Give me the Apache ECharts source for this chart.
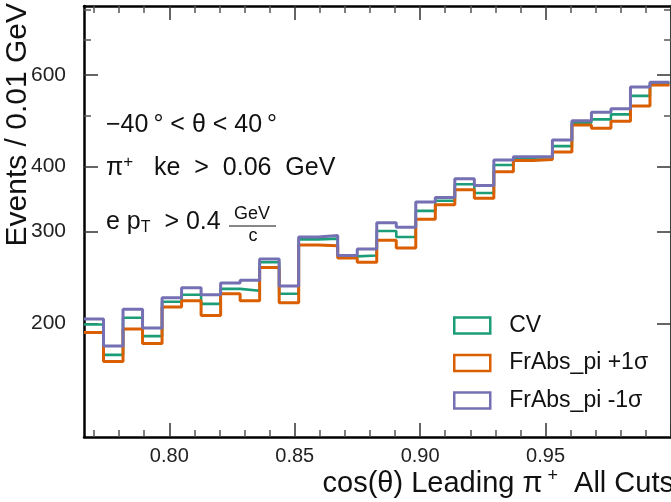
<!DOCTYPE html>
<html>
<head>
<meta charset="utf-8">
<script src="https://cdn.jsdelivr.net/npm/echarts@6/dist/echarts.min.js"></script>
<style>
html, body { margin: 0; padding: 0; background: #fff; }
#main { width: 671px; height: 502px; }
</style>
</head>
<body>
<div id="main"></div>
<script>
// histogram binning (cos theta), 30 bins
var binStart = 0.766, binWidth = 0.00778;

// bin contents
var cv     = [199, 174, 205, 189, 220, 227, 218, 233, 231, 262, 228, 290, 291, 269, 270, 301, 293, 329, 344, 370, 356, 403, 416, 417, 438, 486, 493, 504, 547, 578];
var frUp   = [192, 169, 195, 183, 215, 221, 207, 228, 221, 256, 219, 283, 282, 267, 262, 289, 279, 317, 338, 361, 348, 391, 411, 413, 427, 481, 474, 489, 523, 574];
var frDown = [204, 181, 213, 196, 224, 234, 227, 239, 242, 266, 236, 293, 295, 270, 278, 312, 306, 342, 349, 379, 368, 412, 418, 418, 450, 490, 509, 517, 569, 581];

// ticks
var xMajor = [0.80, 0.85, 0.90, 0.95, 1.00];
var xLabels = [0.80, 0.85, 0.90, 0.95];
var xMinor = [0.77, 0.78, 0.79, 0.81, 0.82, 0.83, 0.84, 0.86, 0.87, 0.88, 0.89, 0.91, 0.92, 0.93, 0.94, 0.96, 0.97, 0.98, 0.99];
var yMajor = [200, 300, 400, 600];
var yMinor = [500, 700, 800];

var FONT = '"Liberation Sans", Arial, sans-serif';
var colors = ['#1b9e77', '#d95f02', '#7570b3'];

function histData(vals) {
  var out = [];
  for (var i = 0; i < vals.length; i++) out.push([binStart + i * binWidth, vals[i]]);
  out.push([binStart + vals.length * binWidth, vals[vals.length - 1]]);
  return out;
}

function xAxisDef(pos, major) {
  return {
    type: 'value', min: 0.766, max: 1.0, position: pos,
    axisLine: { show: major, onZero: false, lineStyle: { color: '#000', width: 2.5 } },
    axisTick: { show: true, inside: true, length: major ? 14 : 7,
      customValues: major ? xMajor : xMinor,
      lineStyle: { color: major ? '#333' : '#555', width: 1.5 } },
    axisLabel: (major && pos === 'bottom') ? {
      show: true, customValues: xLabels, margin: 9,
      fontSize: 20, fontFamily: FONT, color: '#222',
      formatter: function (v) { return v.toFixed(2); }
    } : { show: false },
    splitLine: { show: false }
  };
}

function yAxisDef(pos, major) {
  return {
    type: 'log', logBase: 10, min: 121, max: 814, position: pos,
    axisLine: { show: major, onZero: false, lineStyle: { color: '#000', width: 2.5 } },
    axisTick: { show: true, inside: true, length: major ? 14 : 7,
      customValues: major ? yMajor : yMinor,
      lineStyle: { color: major ? '#333' : '#555', width: 1.5 } },
    axisLabel: (major && pos === 'left') ? {
      show: true, customValues: yMajor, margin: 18,
      fontSize: 21, fontFamily: FONT, color: '#222',
      formatter: function (v) { return String(Math.round(v)); }
    } : { show: false },
    splitLine: { show: false },
    minorTick: { show: false }
  };
}

var names = ['CV', 'FrAbs_pi +1\u03c3', 'FrAbs_pi -1\u03c3'];
var values = [cv, frUp, frDown];

var chart = echarts.init(document.getElementById('main'));
chart.setOption({
  animation: false,
  backgroundColor: '#fff',
  grid: { left: 84, top: 6, width: 590, height: 431 },
  xAxis: [xAxisDef('bottom', true), xAxisDef('bottom', false), xAxisDef('top', true), xAxisDef('top', false)],
  yAxis: [yAxisDef('left', true), yAxisDef('left', false), yAxisDef('right', true), yAxisDef('right', false)],
  legend: {
    orient: 'vertical', left: 453, top: 314, padding: 0,
    itemWidth: 36, itemHeight: 16, itemGap: 14.5, icon: 'rect',
    selectedMode: false,
    textStyle: { fontSize: 23, fontFamily: FONT, color: '#111', padding: [0, 0, 0, 14] },
    data: names.map(function (n, i) {
      return { name: n, itemStyle: { color: 'rgba(0,0,0,0)', borderColor: colors[i], borderWidth: 2.5 } };
    })
  },
  series: values.map(function (v, i) {
    return {
      name: names[i], type: 'line', step: 'end',
      xAxisIndex: 0, yAxisIndex: 0,
      data: histData(v), symbol: 'none',
      lineStyle: { color: colors[i], width: i === 0 ? 2.6 : 3 },
      itemStyle: { color: colors[i] },
      z: 3 + i
    };
  }),
  graphic: [
    { type: 'text', x: 18, y: 3, rotation: Math.PI / 2,
      style: { text: 'Events / 0.01 GeV', font: '30px ' + FONT, fill: '#111', align: 'right', verticalAlign: 'middle' } },
    { type: 'text', x: 674, y: 484,
      style: { text: '{m|cos(\u03b8) Leading \u03c0}{s| +}{m|  All Cuts}', fill: '#111', align: 'right', verticalAlign: 'middle',
        rich: { m: { fontSize: 29, fontFamily: FONT, lineHeight: 34, verticalAlign: 'middle' },
                s: { fontSize: 18, fontFamily: FONT, lineHeight: 24, verticalAlign: 'top' } } } },
    { type: 'text', x: 106, y: 125,
      style: { text: '\u221240\u2009\u00b0 < \u03b8 < 40\u2009\u00b0', font: '25px ' + FONT, fill: '#111', verticalAlign: 'middle' } },
    { type: 'text', x: 106, y: 168,
      style: { text: '{m|\u03c0}{s|+}{m|   ke  >  0.06  GeV}', fill: '#111', verticalAlign: 'middle',
        rich: { m: { fontSize: 25, fontFamily: FONT, lineHeight: 28, verticalAlign: 'middle' },
                s: { fontSize: 17, fontFamily: FONT, lineHeight: 20, verticalAlign: 'top' } } } },
    { type: 'text', x: 106, y: 222,
      style: { text: '{m|e p}{b|T}{m|  > 0.4}', fill: '#111', verticalAlign: 'middle',
        rich: { m: { fontSize: 25, fontFamily: FONT, lineHeight: 28, verticalAlign: 'middle' },
                b: { fontSize: 16, fontFamily: FONT, lineHeight: 19, verticalAlign: 'bottom' } } } },
    { type: 'text', x: 252, y: 214,
      style: { text: 'GeV', font: '18px ' + FONT, fill: '#111', align: 'center', verticalAlign: 'middle' } },
    { type: 'line', shape: { x1: 229, y1: 226, x2: 276, y2: 226 }, style: { stroke: '#111', lineWidth: 1.2 } },
    { type: 'text', x: 253, y: 236,
      style: { text: 'c', font: '18px ' + FONT, fill: '#111', align: 'center', verticalAlign: 'middle' } }
  ]
});
</script>
</body>
</html>
